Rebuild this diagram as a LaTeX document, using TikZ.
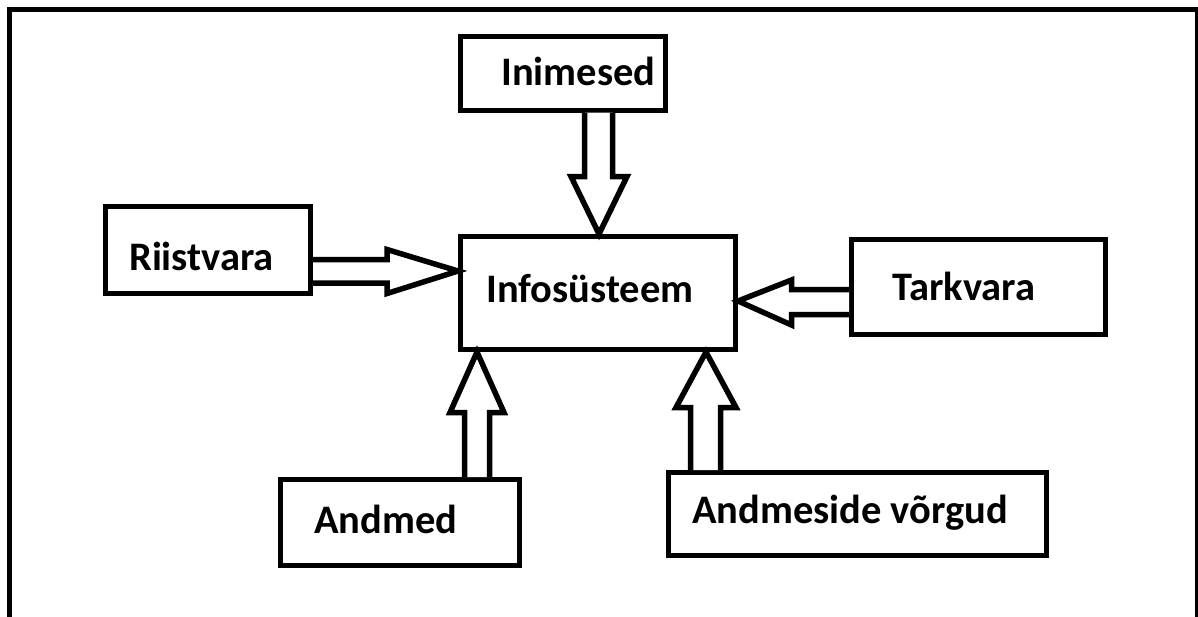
\documentclass[tikz,border=0pt]{standalone}
\usepackage{fontspec}
\setmainfont{Carlito}
\usetikzlibrary{calc}
\begin{document}
\begin{tikzpicture}[x=1pt,y=-1pt,
  box/.style={draw=black,line width=5pt,rectangle,inner sep=0pt,minimum width=#1},
  lbl/.style={anchor=base west,inner sep=0pt,font=\fontsize{40.5}{44}\selectfont\bfseries},
  blk/.style={draw=black,line width=5.5pt,line join=miter,fill=white}]
\useasboundingbox (0,0) rectangle (1198,616);
\clip (0,0) rectangle (1198,616);
\fill[white] (0,0) rectangle (1198,616);
\draw[line width=5pt,line join=miter] (9.5,630) -- (9.5,9.5) -- (1197.5,9.5) -- (1197.5,630);
% boxes
\node[box=205pt,minimum height=74pt]  (inim) at (563,73) {};
\node[box=205pt,minimum height=87pt]  (riis) at (208,250) {};
\node[box=275pt,minimum height=113pt] (info) at (598,293) {};
\node[box=254pt,minimum height=95pt]  (tark) at (978.5,287) {};
\node[box=239pt,minimum height=86pt]  (andm) at (400,522.5) {};
\node[box=378pt,minimum height=83pt]  (vorg) at (857.5,514) {};
% labels
\node[lbl] (tinim) at (501,85) {Inimesed};
\node[lbl] (triis) at (129,270) {Riistvara};
\node[lbl] (tinfo) at (486,302) {Infosüsteem};
\node[lbl] (ttark) at (892,300) {Tarkvara};
\node[lbl] (tandm) at (314,533) {Andmed};
\node[lbl] (tvorg) at (692,523) {Andmeside võrgud};
% block arrows
\coordinate (a1s) at (inim.south -| 598.5,0);
\coordinate (a1t) at (info.north -| 599,0);
\draw[blk] ($(a1s)+(-14,0)$) -- ($(a1s)+(-14,64)$) -- ($(a1s)+(-27.5,64)$) -- (a1t) -- ($(a1s)+(28.5,64)$) -- ($(a1s)+(14,64)$) -- ($(a1s)+(14,0)$);
\coordinate (a2s) at (riis.east |- 0,271);
\coordinate (a2t) at (info.west |- 0,271);
\draw[blk] ($(a2s)+(0,-11.5)$) -- ($(a2s)+(74,-11.5)$) -- ($(a2s)+(74,-21.5)$) -- (a2t) -- ($(a2s)+(74,22.5)$) -- ($(a2s)+(74,12)$) -- ($(a2s)+(0,12)$);
\coordinate (a3s) at (tark.west |- 0,302);
\coordinate (a3t) at (info.east |- 0,301);
\draw[blk] ($(a3s)+(0,-12.5)$) -- ($(a3s)+(-57.5,-12.5)$) -- ($(a3s)+(-57.5,-22)$) -- (a3t) -- ($(a3s)+(-57.5,23)$) -- ($(a3s)+(-57.5,12.5)$) -- ($(a3s)+(0,12.5)$);
\coordinate (a4s) at (andm.north -| 477,0);
\coordinate (a4t) at (info.south -| 477,0);
\draw[blk] ($(a4s)+(-12.5,0)$) -- ($(a4s)+(-12.5,-64.5)$) -- ($(a4s)+(-27,-64.5)$) -- (a4t) -- ($(a4s)+(27,-64.5)$) -- ($(a4s)+(12.5,-64.5)$) -- ($(a4s)+(12.5,0)$);
\coordinate (a5s) at (vorg.north -| 705.5,0);
\coordinate (a5t) at (info.south -| 706,0);
\draw[blk] ($(a5s)+(-15,0)$) -- ($(a5s)+(-15,-62.5)$) -- ($(a5s)+(-29.5,-62.5)$) -- (a5t) -- ($(a5s)+(30.5,-62.5)$) -- ($(a5s)+(15,-62.5)$) -- ($(a5s)+(15,0)$);
\end{tikzpicture}
\end{document}
